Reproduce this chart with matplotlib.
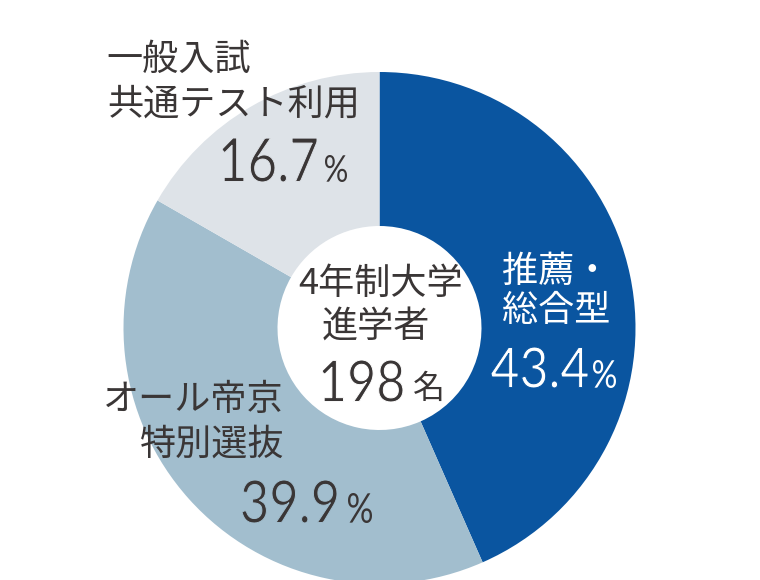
import matplotlib
matplotlib.use("Agg")
import matplotlib.pyplot as plt
from matplotlib.textpath import TextPath
from matplotlib.patches import PathPatch
from matplotlib.font_manager import FontProperties
from matplotlib.transforms import Affine2D

# データ
labels = ["推薦・\n総合型", "オール帝京\n特別選抜", "一般入試\n共通テスト利用"]
shares = [43.4, 39.9, 16.7]
colors = ["#0a55a0", "#a2bece", "#dee3e8"]
center_title = ["4年制大学", "進学者"]
total = 198
total_unit = "名"

jp = ["Noto Sans CJK JP", "DejaVu Sans"]
numfont = FontProperties(family=["Lato", "DejaVu Sans"], weight="normal")
dark = "#3a3636"

fig = plt.figure(figsize=(7.6, 5.8), dpi=100)
ax = fig.add_axes([0, 0, 1, 1])


def box_text(s, left, right, top, bottom, color, bg=None):
    # 数字は細くて縦長なので枠に合わせて変形する（背景色の縁で少し細く）
    p = TextPath((0, 0), s, size=50, prop=numfont)
    bb = p.get_extents()
    sx = (right - left) / bb.width
    sy = (bottom - top) / bb.height
    tr = Affine2D().translate(-bb.x0, -bb.y0).scale(sx, -sy).translate(left, bottom)
    if bg is None:
        ax.add_patch(PathPatch(tr.transform_path(p), facecolor=color, lw=0))
    else:
        ax.add_patch(PathPatch(tr.transform_path(p), facecolor=color,
                               edgecolor=bg, lw=0.7))


# y軸が反転しているので向きも反転
ax.pie(shares, colors=colors, startangle=-90, counterclock=True,
       center=(379.5, 328), radius=256,
       wedgeprops=dict(width=154, linewidth=0), frame=True)
ax.set_xlim(0, 760)
ax.set_ylim(580, 0)
ax.set_aspect("equal")
ax.axis("off")

# 推薦・総合型
l1, l2 = labels[0].split("\n")
ax.text(502, 272, l1, family=jp, fontsize=26, color="white", ha="left", va="center")
ax.text(502, 311, l2, family=jp, fontsize=26, color="white", ha="left", va="center")
box_text(f"{shares[0]}", 491, 588, 347, 388, "white", colors[0])
box_text("%", 593, 616, 360, 388, "white")

# オール帝京特別選抜
l1, l2 = labels[1].split("\n")
ax.text(284, 400, l1, family=jp, fontsize=26, color=dark, ha="right", va="center")
ax.text(284, 445, l2, family=jp, fontsize=26, color=dark, ha="right", va="center")
box_text(f"{shares[1]}", 242, 337, 480, 523, dark, colors[1])
box_text("%", 348, 372, 493, 523, dark)

# 一般入試共通テスト利用
l1, l2 = labels[2].split("\n")
ax.text(106, 60, l1, family=jp, fontsize=26, color=dark, ha="left", va="center")
ax.text(107, 105, l2, family=jp, fontsize=26, color=dark, ha="left", va="center")
box_text(f"{shares[2]}", 222, 317, 138, 182, dark, colors[2])
box_text("%", 325, 347, 155, 182, dark)

# 中央
ax.text(381, 284, center_title[0], family=jp, fontsize=26, color=dark, ha="center", va="center")
ax.text(376, 327, center_title[1], family=jp, fontsize=26, color=dark, ha="center", va="center")
box_text(str(total), 322, 403, 360, 402, dark, "white")
ax.text(428.5, 389, total_unit, family=jp, fontsize=23, color=dark, ha="center", va="center")

fig.savefig("out.png", dpi=100)
